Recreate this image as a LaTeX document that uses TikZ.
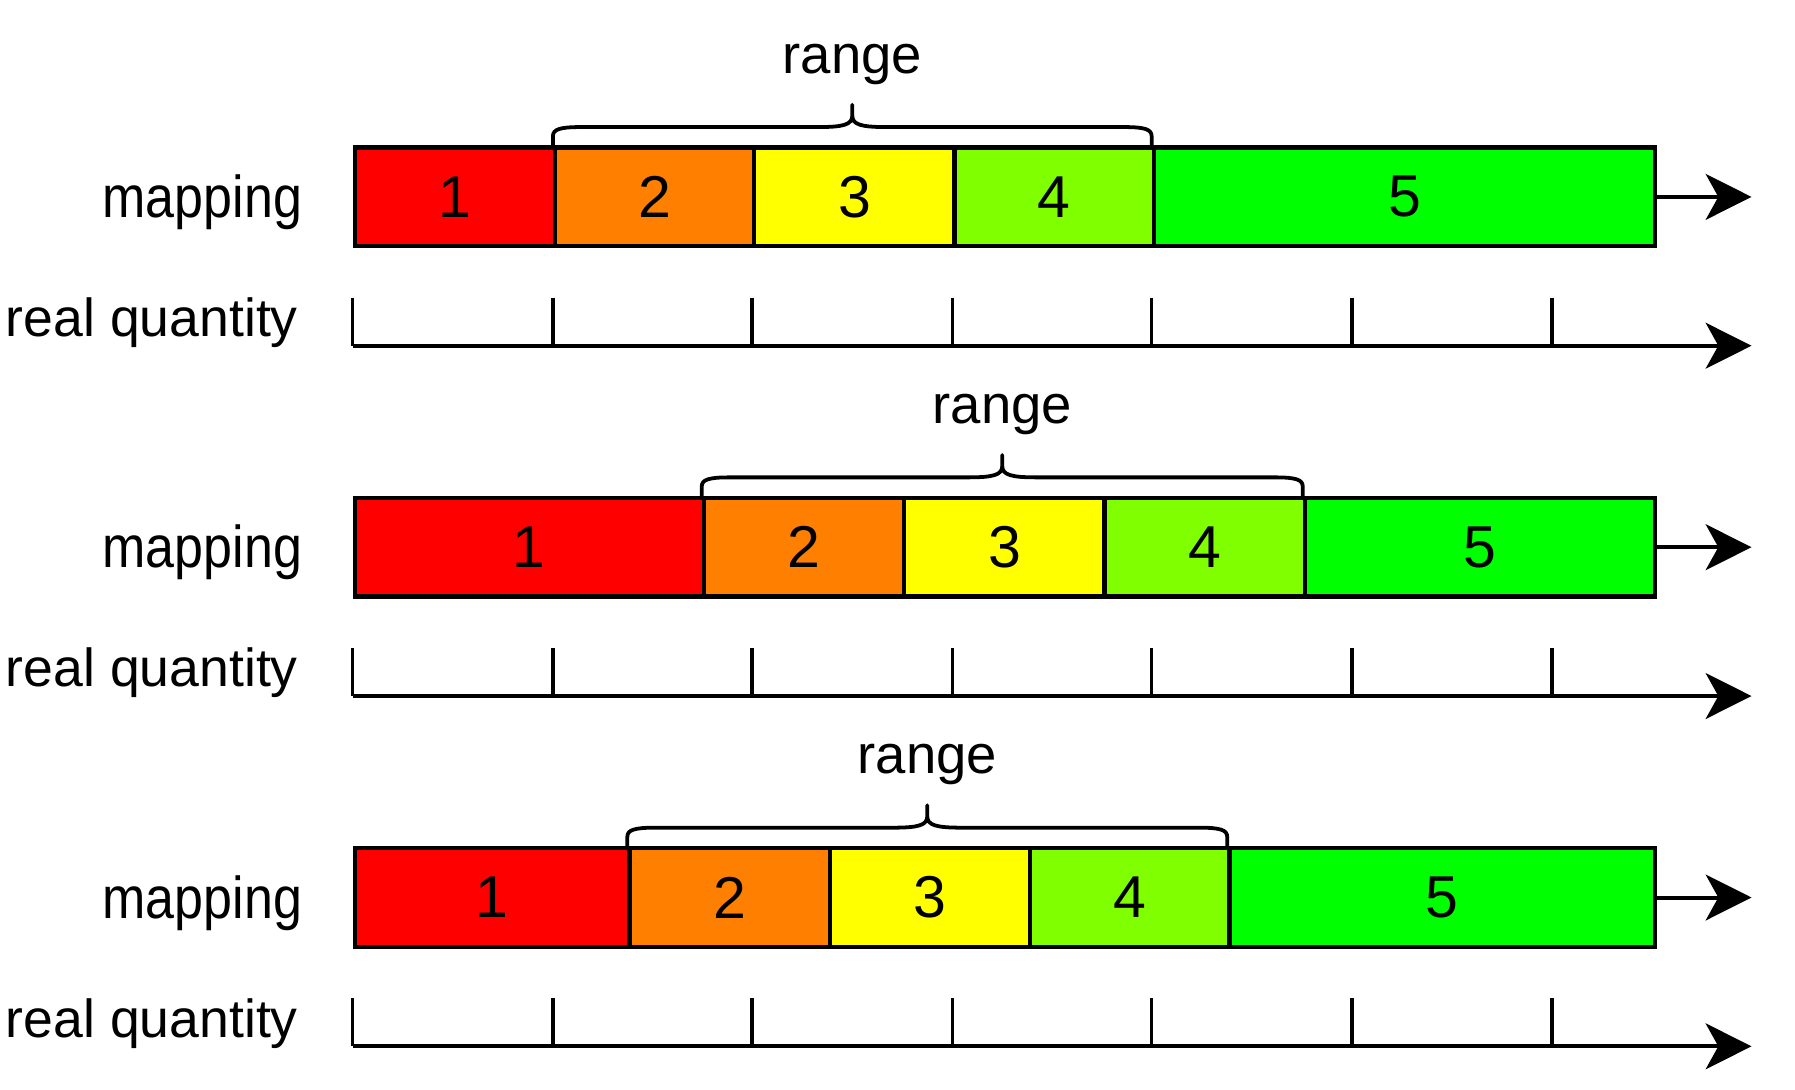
\documentclass[tikz,border=0pt]{standalone}
\usepackage{fontspec}
\setmainfont{Liberation Sans}
\newfontfamily\condfont[FakeStretch=0.88]{Liberation Sans}
\usetikzlibrary{arrows.meta}
\definecolor{cred}{HTML}{FF0000}
\definecolor{corange}{HTML}{FF8000}
\definecolor{cyellow}{HTML}{FFFF00}
\definecolor{clime}{HTML}{80FF00}
\definecolor{cgreen}{HTML}{00FF00}
\tikzset{
  seg/.style={draw=black, line width=3.8pt, rectangle, minimum height=86pt, inner sep=0pt, font=\fontsize{51.6}{58}\selectfont},
  maplbl/.style={inner sep=0pt, font=\condfont\fontsize{51.6}{58}\selectfont},
  qlbl/.style={inner sep=0pt, font=\fontsize{46.8}{54}\selectfont},
  rlbl/.style={inner sep=0pt, font=\fontsize{47.6}{54}\selectfont},
  arr/.style={line width=3.5pt, -{Stealth[length=40pt,width=40pt,inset=11pt]}},
  tk/.style={line width=3.2pt},
  brc/.style={line width=3.3pt, line join=round},
}
\newcommand\drawrow[6]{%
  \pgfmathsetmacro\yc{#2+43}%
  \pgfmathsetmacro\ya{#2+173}%
  \pgfmathsetmacro\yt{#2+131}%
  \foreach \xa/\xb/\col/\n [count=\i] in {308/#3/cred/1, #3/#4/corange/2, #4/#5/cyellow/3, #5/#6/clime/4, #6/1444/cgreen/5} {
    \node[seg, fill=\col, minimum width={(\xb-\xa)*1pt}, anchor=west] (m#1s\i) at (\xa,\yc) {\n};
  }
  \coordinate (m#1end) at (1530,\yc);
  \draw[arr] (m#1s5.east) -- (m#1end);
  \coordinate (q#1o) at (308,\ya);
  \coordinate (q#1end) at (1530,\ya);
  \draw[arr] (q#1o) -- (q#1end);
  \foreach \x in {308,483,657,832,1006,1181,1356} {\draw[tk] (\x,\yt) -- (\x,\ya);}
  \node[maplbl, anchor=base east] (ml#1) at (264,#2+61) {mapping};
  \node[qlbl, anchor=base west] (ql#1) at (5,#2+165) {real quantity};
  % brace
  \pgfmathsetmacro\xm{(#3+#6)/2}%
  \pgfmathsetmacro\h{#2-18}%
  \pgfmathsetmacro\tp{#2-37.5}%
  \draw[brc] (#3,#2) -- (#3,\h+8) .. controls (#3,\h+2) and (#3+6,\h) .. (#3+24,\h)
     -- (\xm-30,\h) .. controls (\xm-8,\h) and (\xm,\h-2) .. (\xm,\h-10) -- (\xm,\tp)
     -- (\xm,\h-10) .. controls (\xm,\h-2) and (\xm+8,\h) .. (\xm+30,\h)
     -- (#6-24,\h) .. controls (#6-6,\h) and (#6,\h+2) .. (#6,\h+8) -- (#6,#2);
  \node[rlbl, anchor=base] (rg#1) at (\xm,#2-65) {range};
}
\begin{document}
\begin{tikzpicture}[x=1pt,y=-1pt]
\useasboundingbox (0,0) rectangle (1568,952);
\drawrow{1}{129}{483}{657}{832}{1006}
\drawrow{2}{435}{613}{788}{963}{1138}
\drawrow{3}{741}{548}{723}{898}{1072}
\end{tikzpicture}
\end{document}
